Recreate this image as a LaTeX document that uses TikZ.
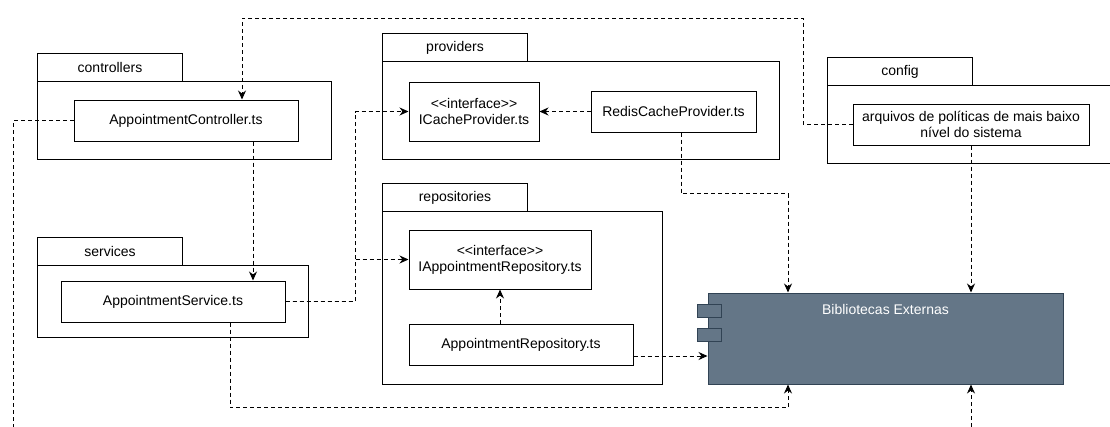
\documentclass[tikz,border=0pt]{standalone}
\usepackage{fontspec}
\setmainfont{Liberation Sans}
\usetikzlibrary{arrows.meta}

\definecolor{libfill}{HTML}{647687}
\definecolor{libline}{HTML}{314354}

\begin{document}
\begin{tikzpicture}[x=1pt,y=-1pt,
  every node/.style={font=\fontsize{14}{16}\selectfont},
  pkgtab/.style={draw, line width=1pt, inner sep=0pt, anchor=north west,
    minimum width=145pt, minimum height=28pt},
  pkgbody/.style={draw, line width=1pt, inner sep=0pt, anchor=north west},
  cls/.style={draw, line width=1pt, fill=white, align=center, inner sep=0pt},
  dep/.style={line width=1pt, dash pattern=on 4pt off 3pt,
    -{Stealth[length=9pt,width=8pt]}},
  port/.style={draw=libline, fill=libfill, line width=1pt, inner sep=0pt,
    minimum width=24pt, minimum height=13pt},
]
\path[use as bounding box, clip] (0,0) rectangle (1110,426);

% packages: tab + body
\node[pkgtab] (ctrltab) at (37,53) {controllers};
\node[pkgbody, minimum width=294pt, minimum height=78pt] (ctrlpkg) at (37,81) {};
\node[pkgtab] (provtab) at (382,33) {providers};
\node[pkgbody, minimum width=397pt, minimum height=98pt] (provpkg) at (382,61) {};
\node[pkgtab] (cfgtab) at (827,57) {config};
\node[pkgbody, minimum width=300pt, minimum height=78pt] (cfgpkg) at (827,85) {};
\node[pkgtab] (svctab) at (37,237) {services};
\node[pkgbody, minimum width=271pt, minimum height=72pt] (svcpkg) at (37,265) {};
\node[pkgtab] (repotab) at (382,183) {repositories};
\node[pkgbody, minimum width=280pt, minimum height=173pt] (repopkg) at (382,211) {};

% classes
\node[cls, minimum width=224pt, minimum height=41pt] (ctrl) at (186,120.5) {AppointmentController.ts};
\node[cls, minimum width=224pt, minimum height=41pt] (svc) at (173,301.5) {AppointmentService.ts};
\node[cls, minimum width=130pt, minimum height=59pt] (icache) at (474,111.5) {{<}{<}interface{>}{>}\\ICacheProvider.ts};
\node[cls, minimum width=165pt, minimum height=41pt] (redis) at (673.5,111.5) {RedisCacheProvider.ts};
\node[cls, minimum width=182pt, minimum height=59pt] (irepo) at (500,259.5) {{<}{<}interface{>}{>}\\IAppointmentRepository.ts};
\node[cls, minimum width=224pt, minimum height=41pt] (repo) at (521,344.5) {AppointmentRepository.ts};
\node[cls, minimum width=236pt, minimum height=41pt] (cfg) at (971,124.5) {arquivos de políticas de mais baixo\\nível do sistema};

% external libraries component
\node[draw=libline, fill=libfill, line width=1pt, inner sep=0pt,
  minimum width=355pt, minimum height=91pt] (bib) at (885.5,338.5) {};
\node[text=white, anchor=north] (bibtext) at ([yshift=-8pt]bib.north) {Bibliotecas Externas};
\node[port] (port1) at (709,310.5) {};
\node[port] (port2) at (709,334.5) {};

% connector helper points
\coordinate (bus) at (355,0);
\coordinate (ctrlout) at ([xshift=67pt]ctrl.south);
\coordinate (ctrlin) at ([xshift=56pt]ctrl.north);
\coordinate (svcout) at ([xshift=57pt]svc.south);
\coordinate (redisout) at ([xshift=7.5pt]redis.south);
\coordinate (repoout) at ([yshift=-11.5pt]repo.east);
\coordinate (repoup) at ([xshift=-21pt]repo.north);
\coordinate (bibtopL) at ([xshift=-97.5pt]bib.north);
\coordinate (bibbotL) at ([xshift=-97.5pt]bib.south);
\coordinate (bibbotR) at ([xshift=85.5pt]bib.south);

% dependencies
\draw[dep] (cfg.west) -| (803,18) -| (ctrlin);
\draw[dep] (ctrlout) -- (ctrlout |- svc.north);
\draw[dep] (ctrl.west) -| (13,440) -| (bibbotR);
\draw[dep] (svc.east) -| (bus |- icache.west) -- (icache.west);
\draw[dep] (svc.east) -| (bus |- irepo.west) -- (irepo.west);
\draw[dep] (svcout) -- ++(0,85) -| (bibbotL);
\draw[dep] (redis.west) -- (icache.east);
\draw[dep] (redisout) -- ++(0,61) -| (bibtopL);
\draw[dep] (cfg.south) -- (cfg.south |- bib.north);
\draw[dep] (repoup) -- (repoup |- irepo.south);
\draw[dep] (repoout) -- (repoout -| bib.west);
\end{tikzpicture}
\end{document}
